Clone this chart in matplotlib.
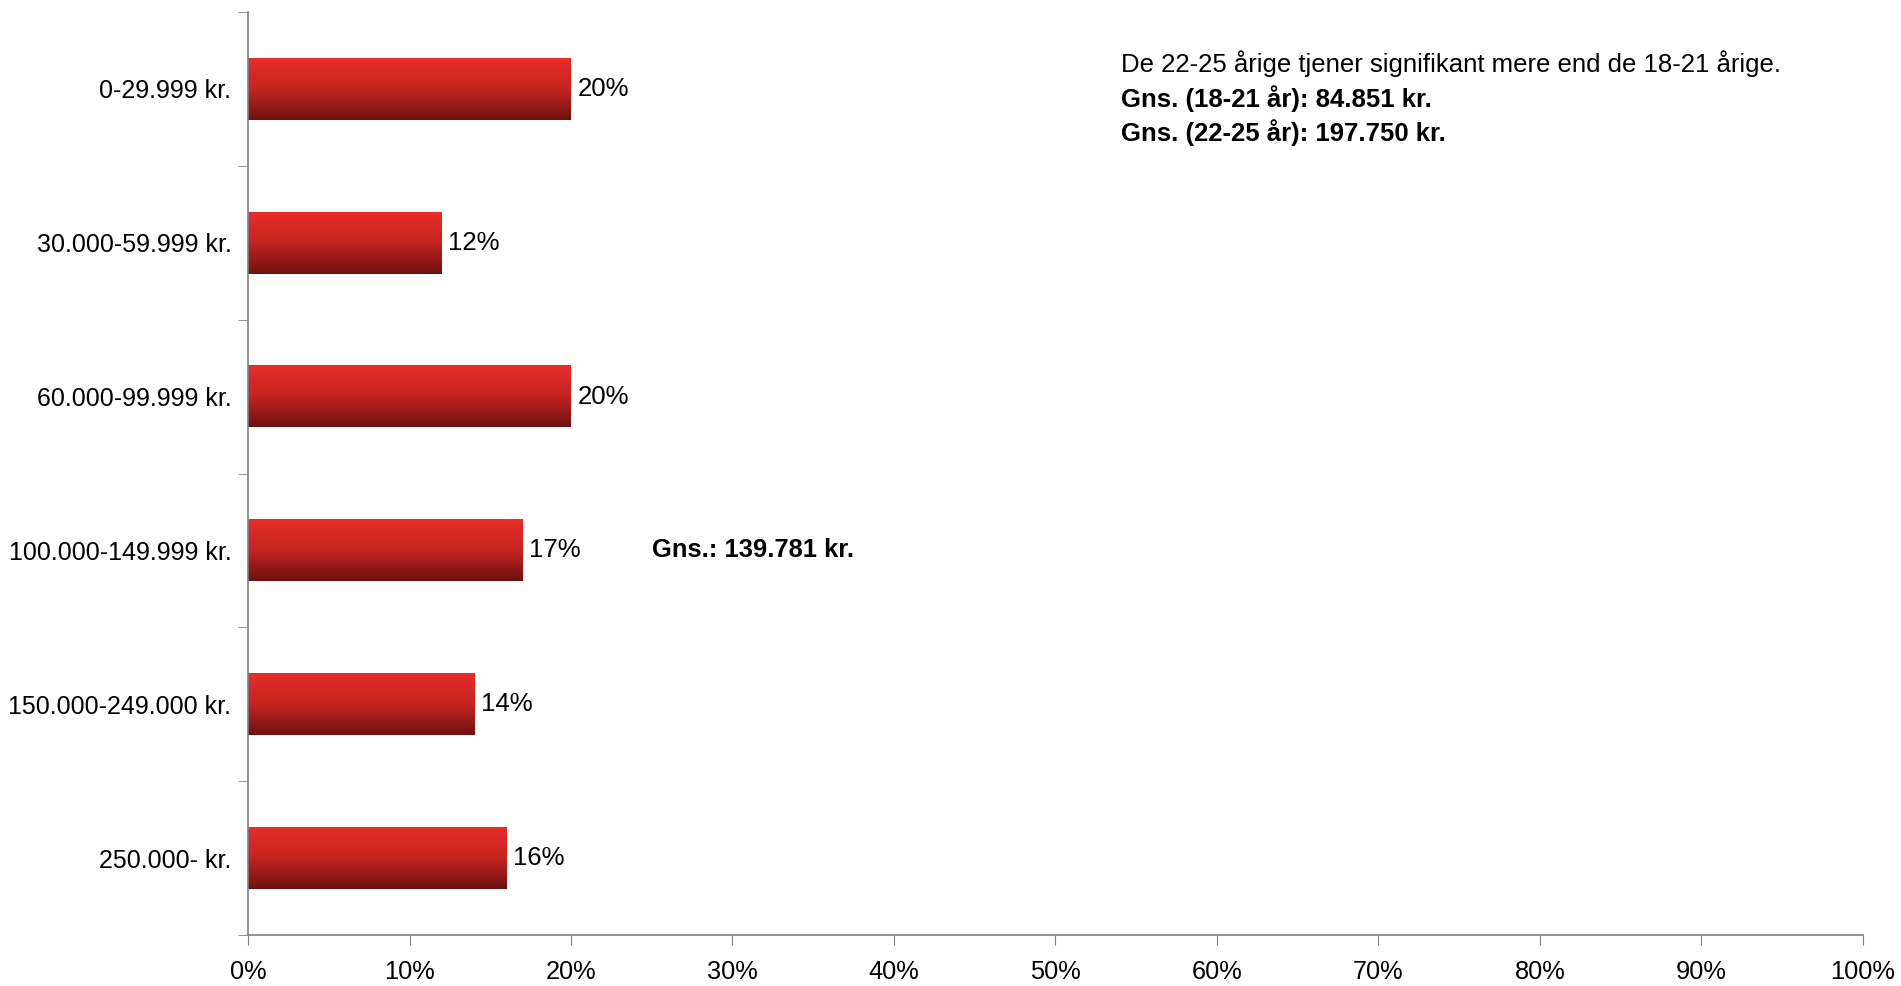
import numpy as np
from matplotlib import pyplot as plt
from matplotlib.colors import LinearSegmentedColormap

categories = ['0-29.999 kr.', '30.000-59.999 kr.', '60.000-99.999 kr.',
              '100.000-149.999 kr.', '150.000-249.000 kr.', '250.000- kr.']
shares = [20, 12, 20, 17, 14, 16]
x_ticks = [0, 10, 20, 30, 40, 50, 60, 70, 80, 90, 100]
note_head = 'De 22-25 årige tjener signifikant mere end de 18-21 årige.'
note_young = 'Gns. (18-21 år): 84.851 kr.'
note_old = 'Gns. (22-25 år): 197.750 kr.'
note_mean = 'Gns.: 139.781 kr.'

plt.rcParams['font.family'] = ['Liberation Sans', 'DejaVu Sans']

fig = plt.figure(figsize=(19.01, 9.86), dpi=100)
ax = fig.add_axes([0.1305, 0.0517, 0.8494, 0.9361])

y = np.arange(len(categories))
bars = ax.barh(y, shares, height=0.4, color='none')

# red gradient, bright on top and dark at the bottom
grad = LinearSegmentedColormap.from_list('redgrad', ['#e82d28', '#c42420', '#6c1210'])
img = np.linspace(0, 1, 256).reshape(-1, 1)
for b in bars:
    x0, y0 = b.get_x(), b.get_y()
    w, h = b.get_width(), b.get_height()
    # y axis is inverted, so y0 is the top edge on screen
    ax.imshow(img, cmap=grad, aspect='auto', extent=(x0, x0 + w, y0 + h, y0),
              zorder=2, interpolation='bilinear')

for yi, v in zip(y, shares):
    ax.text(v + 0.4, yi, f'{v}%', va='center', ha='left', fontsize=18.5)

ax.set_xlim(0, 100)
ax.set_ylim(len(categories) - 0.5, -0.5)
ax.set_xticks(x_ticks)
ax.set_xticklabels([f'{t}%' for t in x_ticks], fontsize=18.3)
ax.set_yticks(y)
ax.set_yticklabels(categories, fontsize=18)
ax.set_yticks(np.arange(-0.5, len(categories), 1), minor=True)
ax.tick_params(axis='y', which='major', length=0, pad=12)
ax.tick_params(axis='y', which='minor', length=7, color='#808080')
ax.tick_params(axis='x', length=7, color='#808080', pad=11)

for s in ['top', 'right']:
    ax.spines[s].set_visible(False)
for s in ['left', 'bottom']:
    ax.spines[s].set_color('#808080')
    ax.spines[s].set_linewidth(1.2)

ax.text(25, 3.0, note_mean, fontsize=18.4, fontweight='bold', va='center', ha='left')

fig.text(0.5897, 0.935, note_head, fontsize=18.5, va='center', ha='left')
fig.text(0.5897, 0.9005, note_young, fontsize=18.5, fontweight='bold', va='center', ha='left')
fig.text(0.5897, 0.866, note_old, fontsize=18.5, fontweight='bold', va='center', ha='left')

plt.savefig('out.png', dpi=100)
